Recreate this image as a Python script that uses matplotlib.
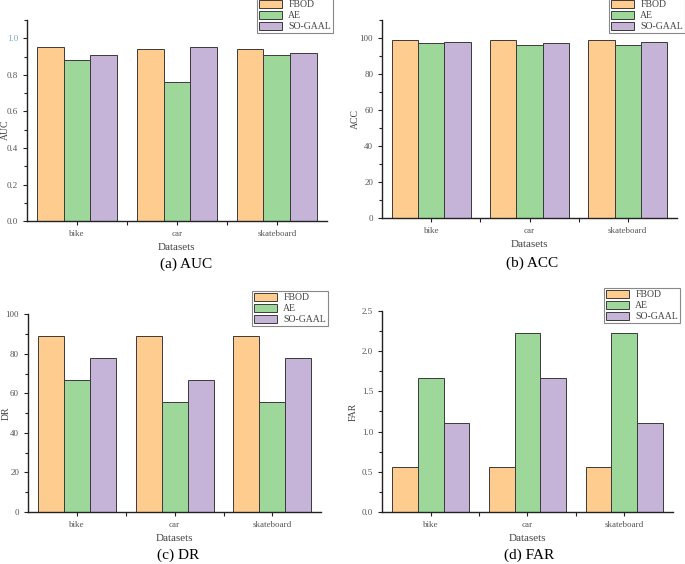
import numpy as np
import matplotlib
matplotlib.use('Agg')
import matplotlib.pyplot as plt
from matplotlib.ticker import MultipleLocator

datasets = ['bike', 'car', 'skateboard']
methods = ['FBOD', 'AE', 'SO-GAAL']

auc_fbod = [0.95, 0.94, 0.94]
auc_ae = [0.88, 0.76, 0.91]
auc_sogaal = [0.91, 0.95, 0.92]

acc_fbod = [99, 99, 99]
acc_ae = [97, 96, 96]
acc_sogaal = [98, 97, 98]

dr_fbod = [88.9, 88.9, 88.9]
dr_ae = [66.7, 55.6, 55.6]
dr_sogaal = [77.8, 66.7, 77.8]

far_fbod = [0.556, 0.556, 0.556]
far_ae = [1.667, 2.222, 2.222]
far_sogaal = [1.111, 1.667, 1.111]

colors = ['#FFCC8F', '#9DD79A', '#C6B3D8']
edge = '#3a3a3a'
tick_color = '#555555'
serif = ['Liberation Serif', 'DejaVu Serif']


def bar_panel(fig, rect, series, ylabel, ylim, major, minor, fmt,
              caption, cap_xy, label_y, ylabel_xy, legend_anchor):
    ax = fig.add_axes(rect)
    x = np.arange(len(datasets))
    w = 0.8 / 3
    for i, (vals, c) in enumerate(zip(series, colors)):
        ax.bar(x + (i - 1) * w, vals, w, color=c, edgecolor=edge,
               linewidth=0.7, label=methods[i])
    ax.set_xlim(-0.5, 2.5)
    ax.set_ylim(*ylim)
    ax.yaxis.set_major_locator(MultipleLocator(major))
    ax.yaxis.set_minor_locator(MultipleLocator(minor))
    ax.set_yticklabels([fmt(v) for v in ax.get_yticks()])
    ax.set_xticks([0, 0.5, 1, 1.5, 2])
    ax.set_xticklabels(['bike', '', 'car', '', 'skateboard'])
    for s in ['top', 'right']:
        ax.spines[s].set_visible(False)
    for s in ['left', 'bottom']:
        ax.spines[s].set_color('#222222')
        ax.spines[s].set_linewidth(1.0)
    ax.tick_params(which='both', direction='out', colors='#222222',
                   labelcolor=tick_color, labelsize=6.5, width=0.8)
    ax.tick_params(which='major', length=3)
    ax.tick_params(which='minor', length=2)
    for t in ax.get_xticklabels() + ax.get_yticklabels():
        t.set_family(serif)
    ax.set_xlabel('Datasets', fontsize=8, family=serif, color='#444444')
    ax.xaxis.set_label_coords(0.5, label_y)
    ax.set_ylabel(ylabel, fontsize=7, family=serif, color='#444444')
    ax.yaxis.set_label_coords(*ylabel_xy)
    leg = fig.legend(*ax.get_legend_handles_labels(), loc='lower right',
                     bbox_to_anchor=legend_anchor, fancybox=False,
                     edgecolor='#888888', framealpha=1, fontsize=7,
                     handlelength=2.4, handleheight=0.9, labelspacing=0.15,
                     borderpad=0.2, handletextpad=0.6, borderaxespad=0)
    leg.get_frame().set_linewidth(0.8)
    for t in leg.get_texts():
        t.set_family(serif)
        t.set_color('#444444')
    fig.text(cap_xy[0], cap_xy[1], caption, ha='center', va='center',
             fontsize=11, family=serif)
    return ax


fig = plt.figure(figsize=(6.85, 5.64), dpi=100)

ax_a = bar_panel(fig, [0.0394, 0.608, 0.4376, 0.3565],
                 [auc_fbod, auc_ae, auc_sogaal], 'AUC', (0, 1.1), 0.2, 0.1,
                 lambda v: f'{v:.1f}', '(a) AUC', (186 / 685, 1 - 264 / 564),
                 -0.11, (-0.058, 0.455), (333 / 685, 1 - 33 / 564))
for t in ax_a.get_yticklabels():
    if t.get_text() == '1.0':
        t.set_color('#7FA8CF')

bar_panel(fig, [0.558, 0.6135, 0.430, 0.351],
          [acc_fbod, acc_ae, acc_sogaal], 'ACC', (0, 110), 20, 10,
          lambda v: f'{v:.0f}', '(b) ACC', (532 / 685, 1 - 263 / 564),
          -0.11, (-0.075, 0.5), (1.0, 1 - 33 / 564))

bar_panel(fig, [0.041, 0.0922, 0.428, 0.3508],
          [dr_fbod, dr_ae, dr_sogaal], 'DR', (0, 100), 20, 10,
          lambda v: f'{v:.0f}', '(c) DR', (178 / 685, 1 - 555 / 564),
          -0.11, (-0.06, 0.5), (328 / 685, 1 - 326 / 564))

bar_panel(fig, [0.558, 0.0922, 0.424, 0.3564],
          [far_fbod, far_ae, far_sogaal], 'FAR', (0, 2.5), 0.5, 0.25,
          lambda v: f'{v:.1f}', '(d) FAR', (529 / 685, 1 - 555 / 564),
          -0.11, (-0.085, 0.5), (680 / 685, 1 - 323 / 564))

fig.savefig('out.png', dpi=100)
